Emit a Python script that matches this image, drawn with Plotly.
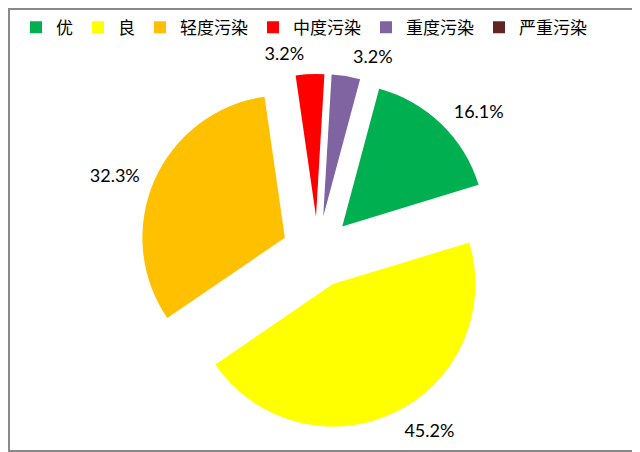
"""Pie chart of air quality day categories (exploded slices)."""

import plotly.graph_objects as go

# data
categories = ["优", "良", "轻度污染", "中度污染", "重度污染", "严重污染"]
days = [5, 14, 10, 1, 1, 0]
colors = ["#00B050", "#FFFF00", "#FFC000", "#FF0000", "#8064A2", "#632523"]

total = sum(days)
pct_text = [f"{v / total:.1%}" if v else "" for v in days]

# the page is drawn with an 8px body margin, so everything is nudged up/left
fig = go.Figure()

fig.add_trace(
    go.Pie(
        labels=categories,
        values=days,
        textinfo="none",
        marker={"colors": colors, "line": {"width": 0}},
        pull=[0.25] * len(days),
        sort=False,
        direction="clockwise",
        rotation=15,
        showlegend=True,
        domain={"x": [0.2053, 0.7619], "y": [0.0661, 0.8543]},
        hoverinfo="label+value+percent",
    )
)

# transparent copy, pulled further out, only to carry the percent labels
fig.add_trace(
    go.Pie(
        labels=categories,
        values=days,
        text=pct_text,
        textinfo="text",
        textposition="outside",
        textfont={"family": "Lato, Open Sans, sans-serif", "size": 18, "color": "#000000"},
        marker={"colors": ["rgba(0,0,0,0)"] * len(days), "line": {"width": 0}},
        pull=[0.32] * len(days),
        sort=False,
        direction="clockwise",
        rotation=15,
        showlegend=False,
        domain={"x": [0.1897, 0.7775], "y": [0.044, 0.8764]},
        hoverinfo="skip",
    )
)

fig.update_layout(
    width=640,
    height=452,
    margin={"l": 0, "r": 0, "t": 0, "b": 0, "autoexpand": False},
    paper_bgcolor="#FFFFFF",
    plot_bgcolor="#FFFFFF",
    legend={
        "orientation": "h",
        "x": 0.4625,
        "xanchor": "center",
        "y": 0.996,
        "yanchor": "top",
        "font": {"family": "Noto Sans CJK SC, sans-serif", "size": 17, "color": "#000000"},
        "itemclick": False,
    },
    shapes=[
        {
            "type": "rect",
            "xref": "paper",
            "yref": "paper",
            "x0": 0,
            "x1": 0.9875,
            "y0": 0.0177,
            "y1": 1,
            "line": {"color": "#898989", "width": 4},
        }
    ],
)

fig.write_html("out.html")
